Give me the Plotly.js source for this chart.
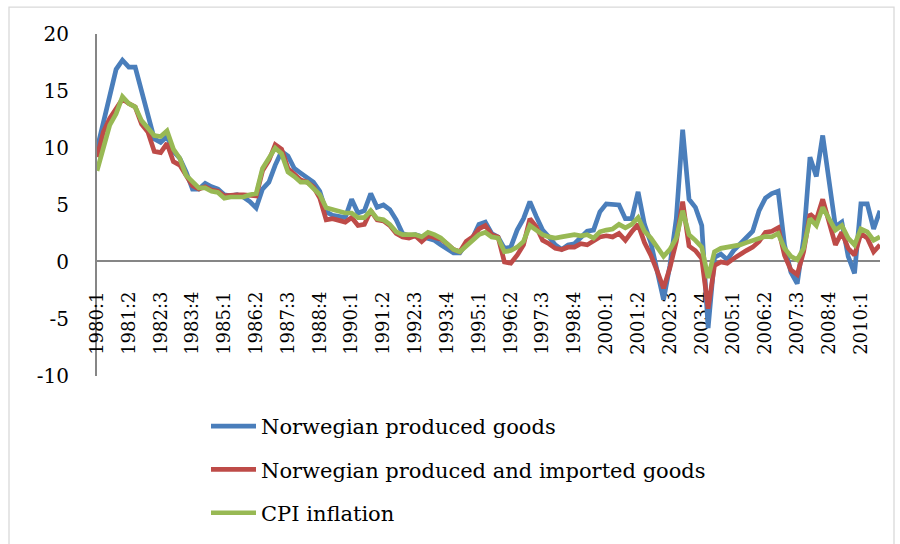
<!DOCTYPE html>
<html>
<head>
<meta charset="utf-8">
<script src="https://cdn.plot.ly/plotly-3.0.1.min.js"></script>
<style>html,body{margin:0;padding:0;background:#fff;}#chart{width:900px;height:544px;}</style>
</head>
<body>
<div id="chart"></div>
<script>
// Quarterly categories 1980:1 - 2010:4
var categories = [
 "1980:1","1980:2","1980:3","1980:4","1981:1","1981:2","1981:3","1981:4",
 "1982:1","1982:2","1982:3","1982:4","1983:1","1983:2","1983:3","1983:4",
 "1984:1","1984:2","1984:3","1984:4","1985:1","1985:2","1985:3","1985:4",
 "1986:1","1986:2","1986:3","1986:4","1987:1","1987:2","1987:3","1987:4",
 "1988:1","1988:2","1988:3","1988:4","1989:1","1989:2","1989:3","1989:4",
 "1990:1","1990:2","1990:3","1990:4","1991:1","1991:2","1991:3","1991:4",
 "1992:1","1992:2","1992:3","1992:4","1993:1","1993:2","1993:3","1993:4",
 "1994:1","1994:2","1994:3","1994:4","1995:1","1995:2","1995:3","1995:4",
 "1996:1","1996:2","1996:3","1996:4","1997:1","1997:2","1997:3","1997:4",
 "1998:1","1998:2","1998:3","1998:4","1999:1","1999:2","1999:3","1999:4",
 "2000:1","2000:2","2000:3","2000:4","2001:1","2001:2","2001:3","2001:4",
 "2002:1","2002:2","2002:3","2002:4","2003:1","2003:2","2003:3","2003:4",
 "2004:1","2004:2","2004:3","2004:4","2005:1","2005:2","2005:3","2005:4",
 "2006:1","2006:2","2006:3","2006:4","2007:1","2007:2","2007:3","2007:4",
 "2008:1","2008:2","2008:3","2008:4","2009:1","2009:2","2009:3","2009:4",
 "2010:1","2010:2","2010:3","2010:4"
];

var norwegianProduced = [
 9.9,12.3,14.9,16.9,17.7,17.1,17.1,14.9,
 12.9,10.8,10.5,11.0,9.7,9.1,7.9,6.4,
 6.4,6.9,6.6,6.4,5.9,5.8,5.9,5.7,
 5.3,4.75,6.4,7.0,8.5,9.7,9.3,8.2,
 7.8,7.4,7.0,6.2,4.4,4.1,4.05,3.9,
 5.5,4.3,4.5,6.0,4.8,5.0,4.6,3.7,
 2.5,2.3,2.4,2.2,2.1,1.9,1.5,1.1,
 0.8,0.8,1.6,2.1,3.3,3.5,2.5,2.2,
 1.2,1.3,2.8,3.8,5.3,4.0,2.8,2.2,
 1.5,1.1,1.5,1.6,2.2,2.7,2.8,4.4,
 5.1,5.0,5.0,3.8,3.8,6.15,3.3,1.7,
 -0.8,-3.3,-0.3,3.8,11.6,5.5,4.8,3.2,
 -5.8,0.4,0.7,0.2,1.0,1.6,2.2,2.7,
 4.5,5.6,6.0,6.2,1.5,-0.9,-1.9,2.0,
 9.2,7.5,11.1,7.2,3.1,3.5,0.5,-1.0,
 5.1,5.1,2.9,4.5
];

var producedAndImported = [
 9.2,11.4,12.6,13.4,14.3,13.9,13.6,12.1,
 11.4,9.7,9.6,10.4,8.8,8.5,7.5,6.7,
 6.4,6.6,6.3,6.2,5.8,5.9,5.9,5.9,
 5.9,5.8,8.0,8.9,10.3,9.9,8.2,7.7,
 7.2,7.0,6.6,5.6,3.7,3.8,3.7,3.5,
 3.9,3.2,3.3,4.5,3.7,3.6,3.2,2.5,
 2.2,2.1,2.3,1.8,2.3,2.2,2.0,1.6,
 1.1,0.9,1.8,2.2,2.9,3.2,2.4,2.2,
 0.0,-0.1,0.6,1.5,3.8,3.1,1.9,1.6,
 1.2,1.1,1.3,1.3,1.6,1.5,1.8,2.2,
 2.3,2.2,2.5,1.9,2.65,3.3,1.7,0.6,
 -0.8,-2.3,-0.5,1.8,5.3,1.4,1.0,0.3,
 -4.1,-0.3,0.0,-0.1,0.3,0.7,1.0,1.3,
 1.8,2.6,2.7,3.0,0.6,-0.7,-1.1,0.9,
 4.2,3.7,5.5,3.5,1.5,2.6,1.2,0.6,
 2.5,2.1,0.9,1.5
];

var cpiInflation = [
 8.0,9.9,12.0,13.0,14.5,13.9,13.6,12.4,
 11.7,11.1,11.0,11.5,9.9,9.1,7.6,7.0,
 6.5,6.5,6.2,6.1,5.6,5.7,5.7,5.7,
 5.9,6.0,8.2,9.1,10.0,9.5,7.9,7.5,
 7.0,7.0,6.5,5.9,4.75,4.6,4.5,4.3,
 4.3,3.9,3.9,4.5,3.8,3.7,3.3,2.65,
 2.4,2.4,2.4,2.2,2.6,2.4,2.1,1.6,
 1.1,0.9,1.4,1.8,2.4,2.6,2.2,2.1,
 0.9,1.0,1.3,1.8,3.2,2.8,2.4,2.2,
 2.1,2.2,2.3,2.4,2.3,2.4,2.1,2.65,
 2.8,2.9,3.3,3.0,3.3,3.9,2.7,2.1,
 1.3,0.5,1.1,2.1,4.5,2.4,1.9,1.3,
 -1.4,0.9,1.2,1.3,1.3,1.5,1.7,1.85,
 2.0,2.25,2.2,2.5,1.2,0.5,0.2,1.2,
 3.8,3.2,4.8,3.8,2.8,3.2,2.1,1.5,
 2.9,2.65,1.9,2.2
];

var seriesNames = ["Norwegian produced goods", "Norwegian produced and imported goods", "CPI inflation"];
var seriesColors = ["#4A7EBB", "#BE4B48", "#98B954"];
var yTickVals = [-10, -5, 0, 5, 10, 15, 20];
var yTickText = ["-10", "-5", "0", "5", "10", "15", "20"];

var seriesValues = [norwegianProduced, producedAndImported, cpiInflation];
var traces = seriesValues.map(function (vals, k) {
  return {
    type: "scatter",
    mode: "lines",
    x: categories,
    y: vals,
    name: seriesNames[k],
    legendgroup: "g" + k,
    line: {color: seriesColors[k], width: 4.7, shape: "linear"},
    hoverinfo: "x+y+name"
  };
});

var L = 97, R = 20, T = 34, B = 167;
var W = 900, H = 544;
var pw = W - L - R, ph = H - T - B;
function px2x(p) { return (p - L) / pw; }
function py2y(p) { return (H - B - p) / ph; }

var layout = {
  width: W, height: H,
  margin: {l: L, r: R, t: T, b: B, pad: 0},
  paper_bgcolor: "#ffffff",
  plot_bgcolor: "#ffffff",
  font: {family: "DejaVu Serif, Liberation Serif, serif", color: "#000000", size: 20},
  showlegend: true,
  legend: {
    x: px2x(206), xanchor: "left",
    y: py2y(406), yanchor: "top",
    orientation: "v",
    font: {family: "DejaVu Serif, serif", size: 21, color: "#000"},
    tracegroupgap: 13,
    itemwidth: 45,
    bgcolor: "rgba(0,0,0,0)",
    itemclick: false
  },
  xaxis: {
    type: "category",
    range: [0, categories.length - 1],
    anchor: "free",
    position: py2y(262),
    showline: true, linecolor: "#868686", linewidth: 2,
    showgrid: false, zeroline: false,
    ticks: "",
    tickmode: "linear", tick0: 0, dtick: 5,
    tickangle: -90,
    ticklabelstandoff: 22,
    tickfont: {family: "DejaVu Serif, serif", size: 18, color: "#000"},
    layer: "below traces",
    fixedrange: true
  },
  yaxis: {
    range: [-10, 20],
    showline: true, linecolor: "#868686", linewidth: 2,
    showgrid: false, zeroline: false,
    ticks: "",
    tickmode: "array", tickvals: yTickVals, ticktext: yTickText,
    ticklabelstandoff: 22,
    tickfont: {family: "DejaVu Serif, serif", size: 20, color: "#000"},
    layer: "below traces",
    fixedrange: true
  },
  shapes: [{
    type: "rect", xref: "paper", yref: "paper",
    x0: px2x(9), x1: px2x(894), y0: py2y(560), y1: py2y(7),
    line: {color: "#D9D9D9", width: 1.3}, fillcolor: "rgba(0,0,0,0)", layer: "below"
  }]
};

Plotly.newPlot("chart", traces, layout, {displayModeBar: false, staticPlot: true});
</script>
</body>
</html>
